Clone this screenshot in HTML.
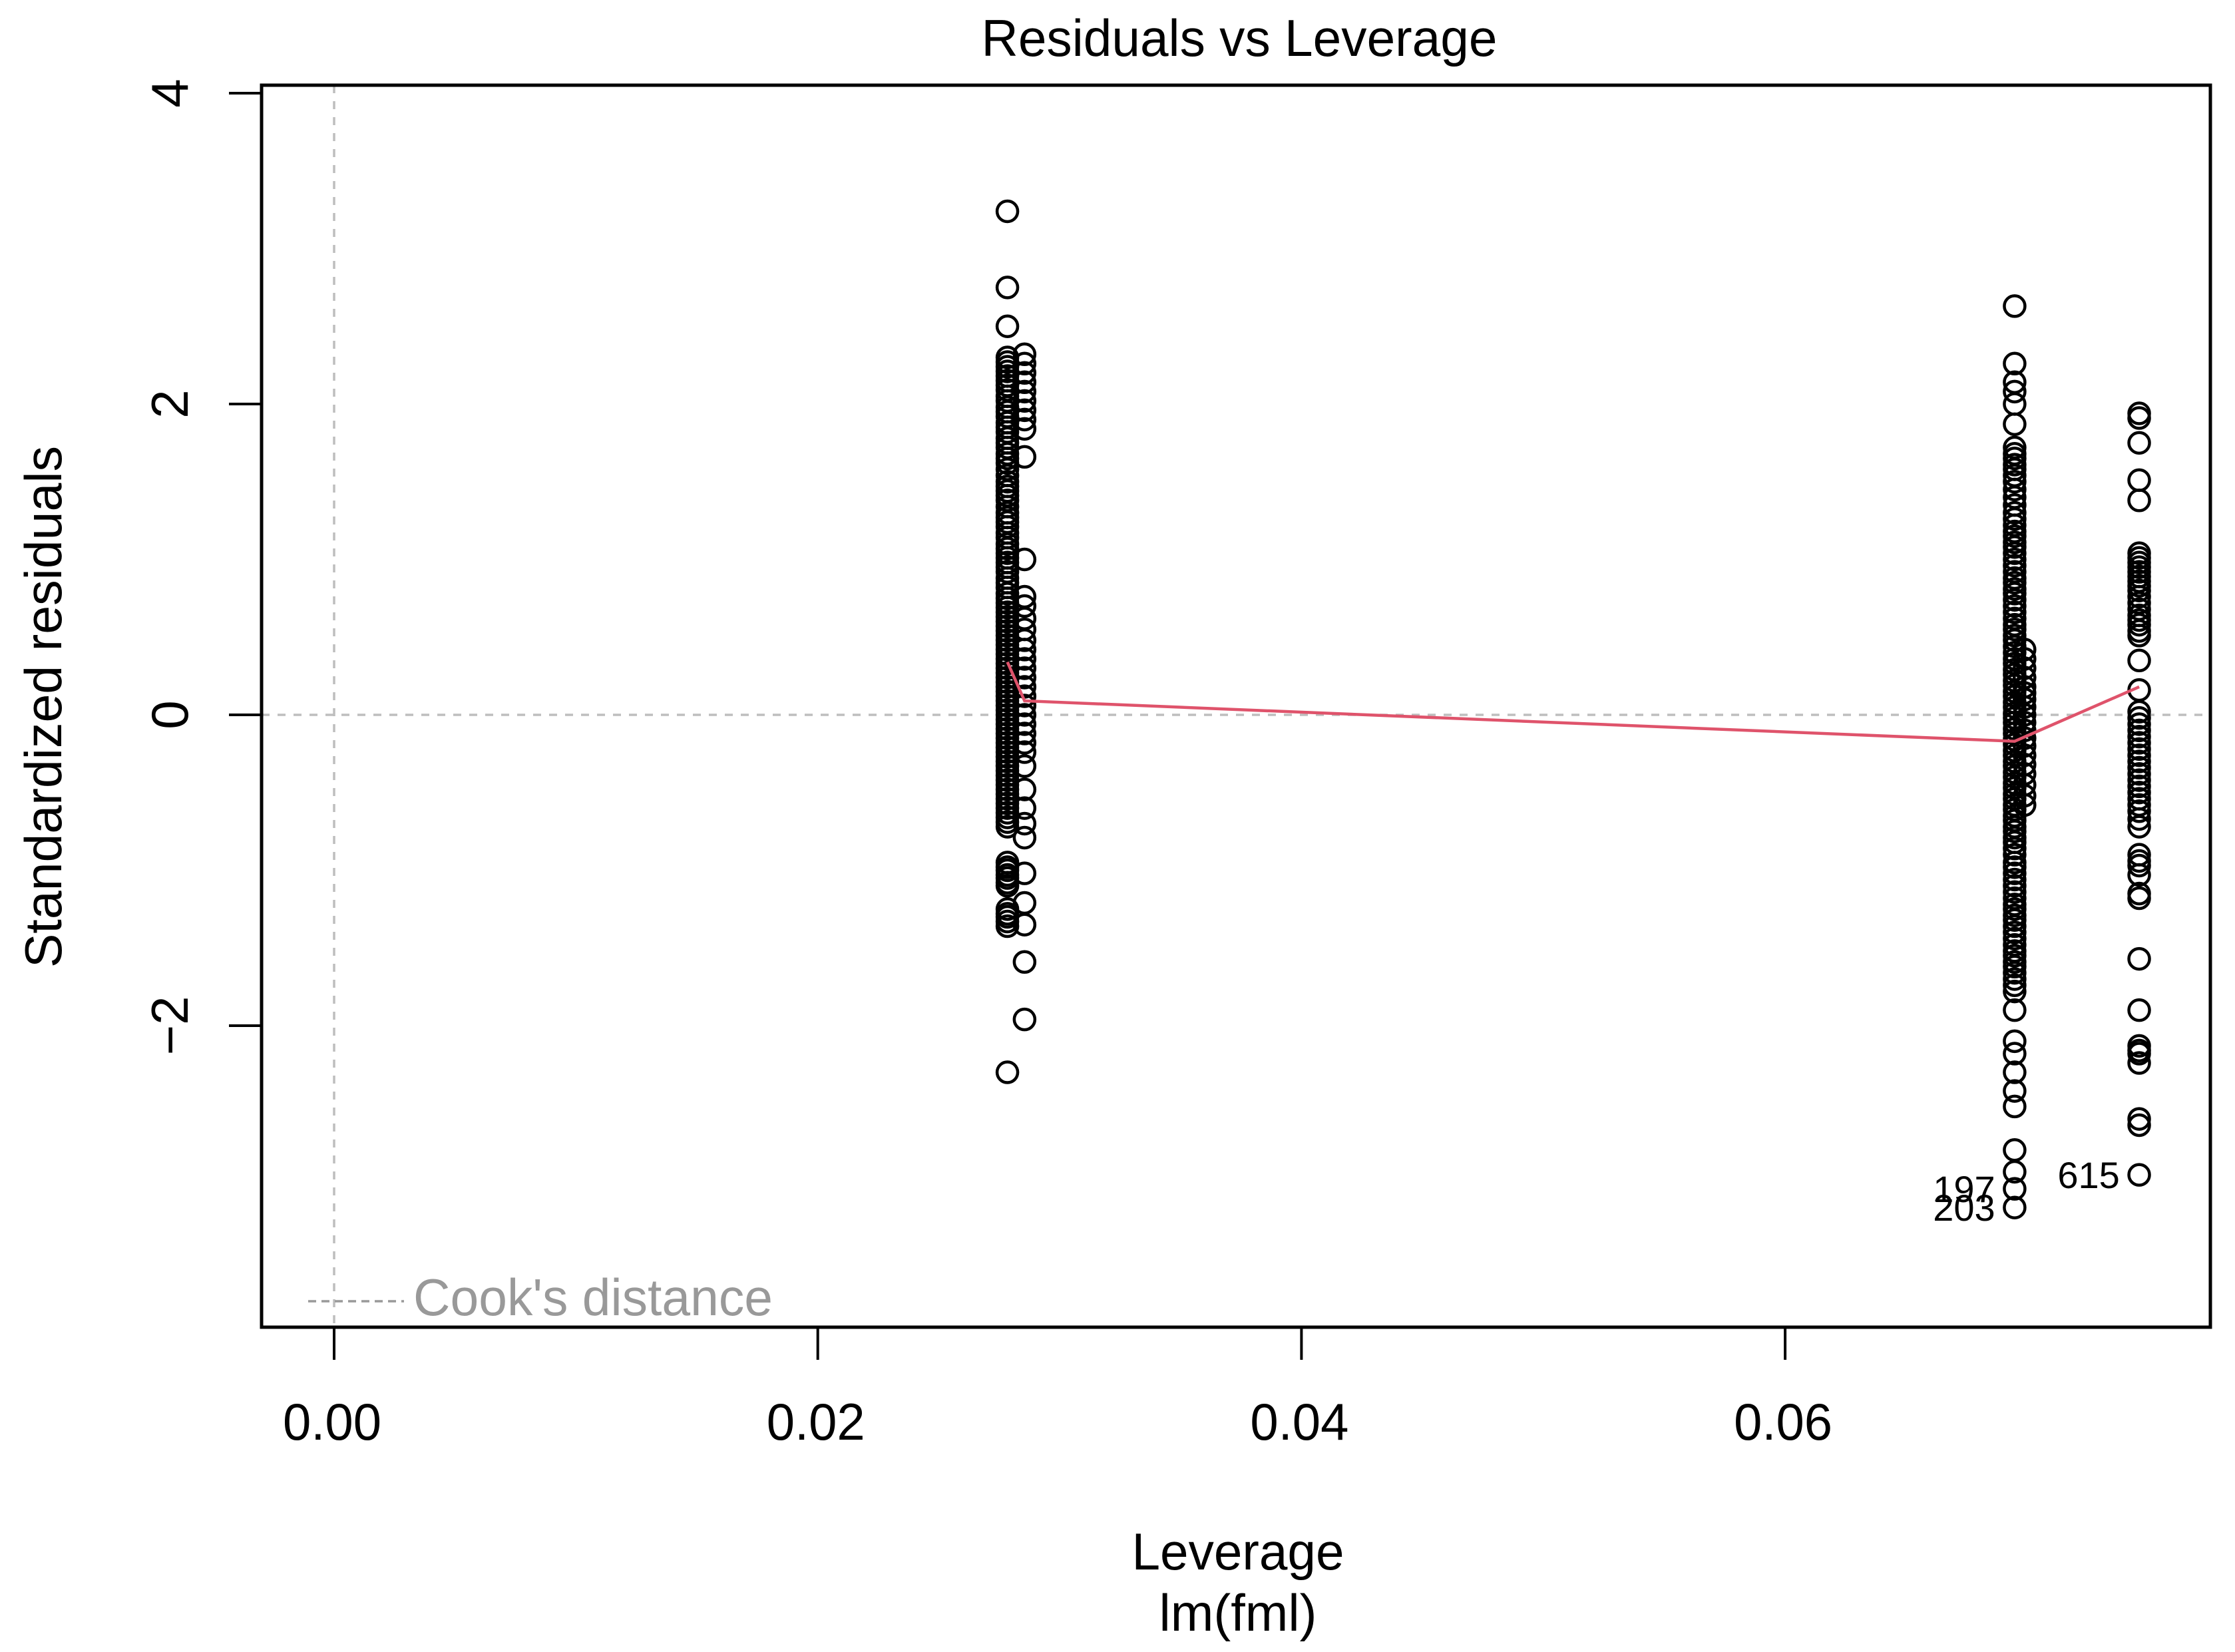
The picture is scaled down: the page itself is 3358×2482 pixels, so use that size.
<!DOCTYPE html>
<html><head><meta charset="utf-8"><style>html,body{margin:0;padding:0;background:#fff}svg{display:block}</style></head>
<body>
<svg id="chart" xmlns="http://www.w3.org/2000/svg" width="3358" height="2482" viewBox="0 0 3358 2482" font-family="'Liberation Sans', Arial, sans-serif">
<rect width="3358" height="2482" fill="#fff"/>
<g id="grid"></g>
<g id="marks"></g>
<g id="axes"></g>
</svg>
<script>
// ---- data ----
const xTicks = [0.00, 0.02, 0.04, 0.06];
const xTickLabels = ["0.00", "0.02", "0.04", "0.06"];
const yTicks = [-2, 0, 2, 4];
const yTickLabels = ["\u22122", "0", "2", "4"];
const levA = 0.02784, levB = 0.02855, levC = 0.06949, levD = 0.0699, levE = 0.07464;
const resA = [3.24,2.75,2.50,2.30,2.27,2.24,2.21,2.18,2.15,2.12,2.09,2.05,2.02,1.98,1.95,1.92,1.88,1.85,1.82,1.78,1.75,1.72,1.68,1.65,1.62,1.58,1.54,1.50,1.47,1.44,1.41,1.38,1.34,1.30,1.27,1.24,1.21,1.17,1.14,1.10,1.07,1.04,1.01,0.98,0.95,0.92,0.88,0.85,0.82,0.78,0.75,0.72,0.69,0.66,0.63,0.60,0.57,0.54,0.51,0.48,0.45,0.42,0.39,0.36,0.33,0.30,0.27,0.24,0.21,0.18,0.15,0.12,0.09,0.06,0.03,0.0,-0.03,-0.06,-0.09,-0.12,-0.15,-0.18,-0.21,-0.24,-0.27,-0.30,-0.33,-0.36,-0.39,-0.42,-0.45,-0.48,-0.51,-0.54,-0.57,-0.60,-0.63,-0.66,-0.69,-0.72,-0.95,-0.98,-1.0,-1.03,-1.05,-1.08,-1.10,-1.25,-1.28,-1.30,-1.33,-1.36,-2.30];
const resB = [2.32,2.26,2.20,2.14,2.08,2.02,1.96,1.90,1.84,1.66,1.00,0.76,0.70,0.62,0.55,0.48,0.42,0.36,0.30,0.24,0.18,0.12,0.06,0.0,-0.06,-0.12,-0.18,-0.24,-0.33,-0.48,-0.60,-0.70,-0.79,-1.02,-1.21,-1.35,-1.59,-1.96];
const resC = [2.63,2.26,2.14,2.08,2.0,1.87,1.72,1.68,1.65,1.61,1.58,1.54,1.50,1.45,1.40,1.35,1.30,1.26,1.22,1.18,1.15,1.11,1.08,1.04,1.0,0.96,0.92,0.88,0.85,0.81,0.78,0.74,0.70,0.66,0.62,0.58,0.55,0.51,0.48,0.44,0.40,0.36,0.33,0.29,0.26,0.22,0.19,0.15,0.12,0.08,0.05,0.01,-0.02,-0.05,-0.09,-0.12,-0.16,-0.19,-0.23,-0.26,-0.30,-0.33,-0.37,-0.40,-0.44,-0.47,-0.51,-0.54,-0.58,-0.61,-0.65,-0.68,-0.72,-0.75,-0.79,-0.82,-0.86,-0.90,-0.95,-0.98,-1.02,-1.06,-1.10,-1.14,-1.18,-1.22,-1.25,-1.29,-1.32,-1.36,-1.40,-1.44,-1.48,-1.52,-1.55,-1.59,-1.62,-1.66,-1.70,-1.74,-1.78,-1.90,-2.10,-2.18,-2.30,-2.42,-2.52,-2.80,-2.94,-3.05,-3.17];
const resD = [0.42,0.36,0.30,0.24,0.18,0.14,0.10,0.05,0.0,-0.05,-0.10,-0.15,-0.20,-0.26,-0.32,-0.38,-0.45,-0.52,-0.58];
const resE = [1.94,1.91,1.75,1.51,1.38,1.04,1.01,0.98,0.95,0.92,0.89,0.86,0.83,0.80,0.76,0.72,0.68,0.64,0.61,0.58,0.54,0.51,0.35,0.16,0.02,-0.02,-0.06,-0.10,-0.14,-0.18,-0.22,-0.26,-0.30,-0.34,-0.38,-0.42,-0.46,-0.50,-0.54,-0.58,-0.62,-0.67,-0.72,-0.90,-0.94,-0.97,-1.03,-1.15,-1.18,-1.57,-1.90,-2.13,-2.16,-2.18,-2.24,-2.60,-2.64,-2.96];
const smoothX = [0.02784, 0.02855, 0.06949, 0.07464];
const smoothY = [0.34, 0.09, -0.17, 0.18];
const pointLabels = ["197", "203", "615"];
const pointLabelX = [0.06949, 0.06949, 0.07464];
const pointLabelY = [-3.05, -3.17, -2.96];

// ---- scales ----
const L=393,R=3321,T=128,B=1994;
function sx(v){return 502 + v*36335;}
function sy(v){return 1074 - v*233.5;}
const NS="http://www.w3.org/2000/svg";
function mk(tag, parent, attrs){const e=document.createElementNS(NS,tag);for(const k in attrs)e.setAttribute(k,attrs[k]);parent.appendChild(e);return e;}
const grid=document.getElementById('grid'), marks=document.getElementById('marks'), axes=document.getElementById('axes');

let g;
g=mk('line',grid,{x1:sx(0),x2:sx(0),y1:T,y2:B,stroke:'#bebebe','stroke-width':3.5,'stroke-dasharray':'12 12'});


g=mk('line',grid,{x1:L,x2:R,y1:sy(0),y2:sy(0),stroke:'#bebebe','stroke-width':3.5,'stroke-dasharray':'12 12'});



function drawCol(lev, arr, name){
  arr.forEach(function(r){
    const c=mk('circle',marks,{cx:sx(lev),cy:sy(r),r:15.5,fill:'none',stroke:'#000','stroke-width':4.5});
    
    
  });
}
drawCol(levA,resA,'residual-point');
drawCol(levB,resB,'residual-point');
drawCol(levC,resC,'residual-point');
drawCol(levD,resD,'residual-point');
drawCol(levE,resE,'residual-point');

let pts=smoothX.map((x,i)=>sx(x)+','+sy(smoothY[i])).join(' ');
g=mk('polyline',marks,{points:pts,fill:'none',stroke:'#DF536B','stroke-width':4.5});



pointLabels.forEach(function(t,i){
  const e=mk('text',marks,{x:sx(pointLabelX[i])-76,y:sy(pointLabelY[i])+20,'font-size':56,'text-anchor':'middle',fill:'#000'});
  e.textContent=t;
  
  
});

// frame
g=mk('rect',axes,{x:L,y:T,width:R-L,height:B-T,fill:'none',stroke:'#000','stroke-width':5});



xTicks.forEach(function(v,i){
  const t=mk('line',axes,{x1:sx(v),x2:sx(v),y1:B,y2:B+49,stroke:'#000','stroke-width':4});
  
  
  const l=mk('text',axes,{x:sx(v)-3,y:2163,'font-size':78,'text-anchor':'middle',textLength:148,lengthAdjust:'spacingAndGlyphs'});
  l.textContent=xTickLabels[i];
  
  
});
yTicks.forEach(function(v,i){
  const t=mk('line',axes,{x1:L-49,x2:L,y1:sy(v),y2:sy(v),stroke:'#000','stroke-width':4});
  
  
  const l=mk('text',axes,{x:0,y:0,'font-size':78,'text-anchor':'middle',transform:'translate(282,'+sy(v)+') rotate(-90)'});
  l.textContent=yTickLabels[i];
  
  
});

// legend
g=mk('line',axes,{x1:463,x2:607,y1:1955,y2:1955,stroke:'#999','stroke-width':3.5,'stroke-dasharray':'12 8'});


g=mk('text',axes,{x:621,y:1976,'font-size':78,fill:'#999',textLength:540,lengthAdjust:'spacingAndGlyphs'});
g.textContent="Cook's distance";



// titles
g=mk('text',axes,{x:1862,y:84,'font-size':78,'text-anchor':'middle',textLength:775,lengthAdjust:'spacingAndGlyphs'});
g.textContent='Residuals vs Leverage';


g=mk('text',axes,{x:1860,y:2358,'font-size':78,'text-anchor':'middle',textLength:319,lengthAdjust:'spacingAndGlyphs'});
g.textContent='Leverage';


g=mk('text',axes,{x:1860,y:2450,'font-size':78,'text-anchor':'middle',textLength:237,lengthAdjust:'spacingAndGlyphs'});
g.textContent='lm(fml)';


g=mk('text',axes,{x:0,y:0,'font-size':78,'text-anchor':'middle',textLength:784,lengthAdjust:'spacingAndGlyphs',transform:'translate(92,1062) rotate(-90)'});
g.textContent='Standardized residuals';


</script>
</body></html>
